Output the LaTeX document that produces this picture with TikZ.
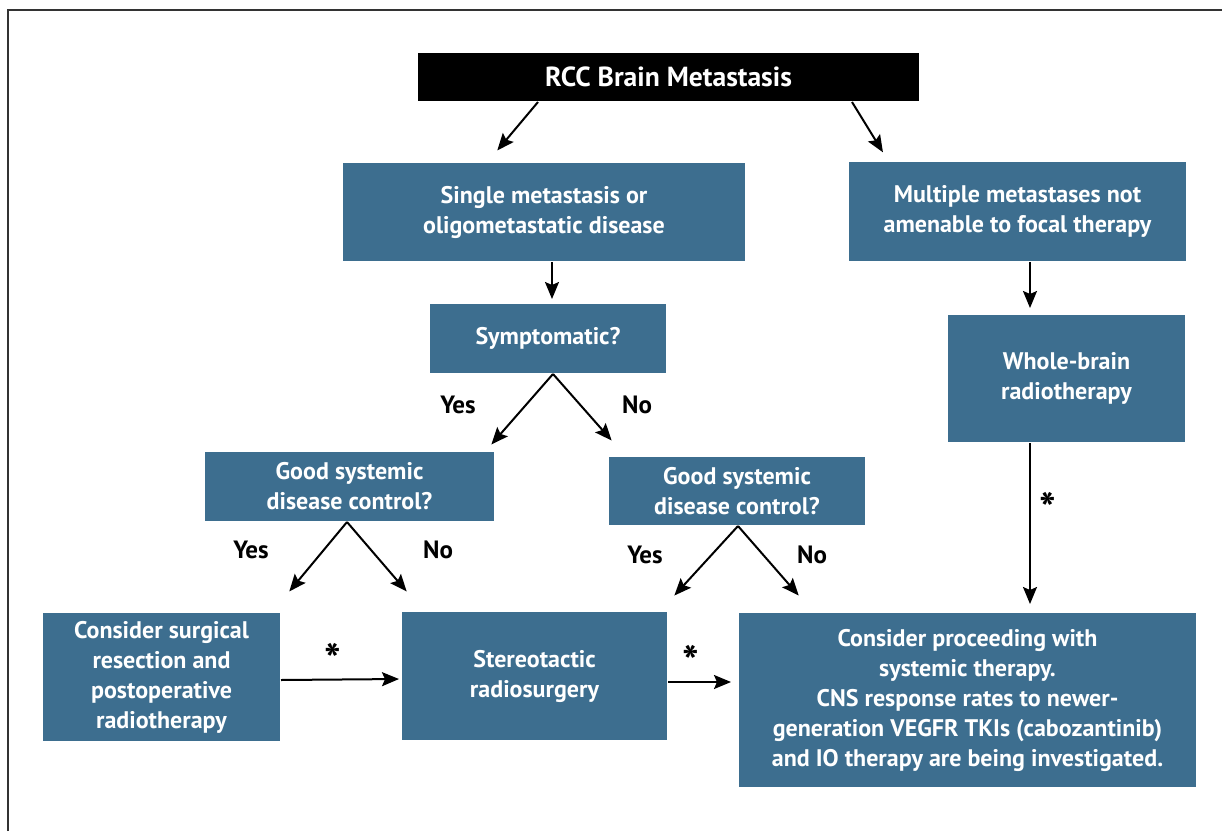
\documentclass[tikz,border=0pt]{standalone}
\usepackage{fontspec}
\setmainfont{PT Sans}
\usepackage{tikz}
\usetikzlibrary{arrows.meta}
\definecolor{boxblue}{RGB}{61,110,143}

\begin{document}
\begin{tikzpicture}[x=0.5pt,y=-0.5pt,shorten >=1pt,line width=1pt,>={Stealth[length=8.5pt,width=7pt,inset=1.5pt]}]
		\tikzstyle{step box}=[fill=boxblue,text=white,inner sep=0pt,align=center,font=\bfseries\fontsize{12}{15}\selectfont]
		\tikzstyle{answer}=[font=\bfseries\fontsize{12.5}{14}\selectfont]
		\tikzstyle{star}=[font=\bfseries\fontsize{22}{22}\selectfont,inner sep=0pt]
		\useasboundingbox (0,0) rectangle (1222,831);
		\draw[line width=1pt,black!80,shorten >=0pt] (8,831) -- (8,10) -- (1222,10);

		\node[fill=black,text=white,minimum width=250.5pt,minimum height=24pt,font=\bfseries\fontsize{13.8}{15}\selectfont](top) at (668.5,77){RCC Brain Metastasis};

		\node[step box,minimum width=201pt,minimum height=49pt](single) at (544,212){Single metastasis or\\oligometastatic disease};
		\node[step box,minimum width=168.5pt,minimum height=49.5pt](multi) at (1017.5,211.5){Multiple metastases not\\amenable to focal therapy};
		\node[step box,minimum width=118pt,minimum height=34.5pt](sympt) at (548,338.5){Symptomatic?};
		\node[step box,minimum width=118.5pt,minimum height=63.5pt](whole) at (1066.5,378.5){Whole-brain\\radiotherapy};
%
		\node[step box,minimum width=144.5pt,minimum height=34.5pt](goodL) at (349.5,486.5){Good systemic\\disease control?};
		\node[step box,minimum width=128pt,minimum height=34pt](goodR) at (737,491){Good systemic\\disease control?};
%
		\node[step box,minimum width=118.5pt,minimum height=64pt](surg) at (161.5,677){Consider surgical\\resection and\\postoperative\\radiotherapy};
		\node[step box,minimum width=132.5pt,minimum height=64pt](stereo) at (534.5,676){Stereotactic\\radiosurgery};
		\node[step box,minimum width=228.5pt,minimum height=87pt](proceed) at (967.5,700){Consider proceeding with\\systemic therapy.\\CNS response rates to newer-\\generation VEGFR TKIs (cabozantinib)\\and IO therapy are being investigated.};

		\draw[->] ([xshift=-65.25pt]top.south) -- ([xshift=-24pt,yshift=5pt]single.north);
		\draw[->] ([xshift=91.75pt]top.south) -- ([xshift=-66.75pt,yshift=3.5pt]multi.north);
		\draw[->,shorten >=2pt] ([xshift=4pt]single.south) -- ([xshift=2pt]sympt.north);
		\draw[->,shorten >=3pt] ([xshift=6.25pt]multi.south) -- ([xshift=-18.25pt]whole.north);

		\draw[->] ([xshift=2.5pt]sympt.south) -- ([xshift=70.25pt,yshift=2.5pt]goodL.north);
		\draw[->] ([xshift=2.5pt]sympt.south) -- ([xshift=-62pt,yshift=7pt]goodR.north);

		\draw[->] ([xshift=-1.25pt]goodL.south) -- ([xshift=63.25pt,yshift=9.5pt]surg.north);
		\draw[->] ([xshift=-1.25pt]goodL.south) -- ([xshift=-63.25pt,yshift=9pt]stereo.north);
		\draw[->] ([xshift=0.5pt]goodR.south) -- ([xshift=69.25pt,yshift=7pt]stereo.north);
		\draw[->] ([xshift=0.5pt]goodR.south) -- ([xshift=-83.75pt,yshift=7.5pt]proceed.north);

		\draw[->] ([yshift=-1.5pt]surg.east) -- ([yshift=-1.5pt]stereo.west);
		\draw[->,shorten >=3.5pt] ([yshift=-3pt]stereo.east) -- ([yshift=9pt]proceed.west);
		\draw[->,shorten >=4pt] ([xshift=-18.25pt]whole.south) -- ([xshift=31.25pt]proceed.north);

		\node[answer](yes1) at (458,405){Yes};
		\node[answer](no1) at (637,405){No};
		\node[answer](yes2) at (251,550){Yes};
		\node[answer](no2) at (438,550){No};
		\node[answer](yes3) at (645,555){Yes};
		\node[answer](no3) at (812,555){No};
		\node[star,anchor=north](ast1) at (333,642){*};
		\node[star,anchor=north](ast2) at (691,644){*};
		\node[star,anchor=north](ast3) at (1048,491){*};
	\end{tikzpicture}
\end{document}
